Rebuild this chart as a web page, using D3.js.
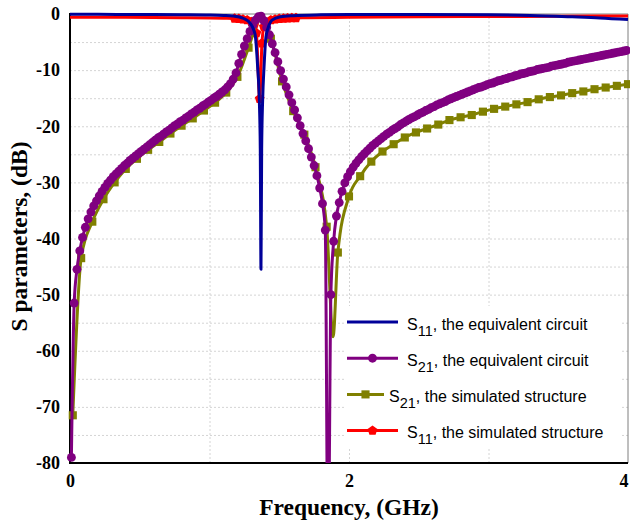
<!DOCTYPE html>
<html>
<head>
<meta charset="utf-8">
<script src="https://cdn.jsdelivr.net/npm/d3@7"></script>
<style>
  body { margin: 0; background: #fff; }
  svg { display: block; }
</style>
</head>
<body>
<svg id="chart" width="630" height="527"></svg>
<script>
// ---- Axis ticks ----
const xTicks = [0, 2, 4];
const yTicks = [0, -10, -20, -30, -40, -50, -60, -70, -80];

// ---- S11, equivalent circuit (line only) ----
const s11EqFreq = [0, 0.2, 0.4, 0.6, 0.8, 1.0, 1.1, 1.17, 1.245, 1.293, 1.315, 1.329, 1.345, 1.357, 1.364, 1.369,
  1.374, 1.381, 1.391, 1.405, 1.42, 1.448, 1.508, 1.6, 1.8, 2.0, 2.5, 3.0, 3.3, 3.6, 3.8, 4.0];
const s11EqDb = [-0.05, -0.06, -0.08, -0.1, -0.13, -0.18, -0.25, -0.35, -0.8, -1.7, -2.7, -4.0, -9.4, -15.3, -24, -45.5,
  -24, -15.3, -9.4, -4.0, -2.5, -1.1, -0.5, -0.3, -0.15, -0.1, -0.1, -0.15, -0.25, -0.5, -0.7, -1.0];

// ---- S21, equivalent circuit: sweep 0.01 ... 3.99 GHz, step 0.02 GHz ----
const s21EqFreq = d3.range(200).map(i => +(0.01 + 0.02 * i).toFixed(2));
const s21EqDb = [
  -79, -51.5, -45.5, -42.2, -39.8, -38.0, -36.5, -35.3, -34.2, -33.3,
  -32.4, -31.6, -30.9, -30.2, -29.6, -29.0, -28.5, -28.0, -27.5, -27.0,
  -26.6, -26.1, -25.7, -25.3, -24.9, -24.5, -24.1, -23.7, -23.3, -22.9,
  -22.5, -22.1, -21.8, -21.4, -21.0, -20.7, -20.3, -19.9, -19.6, -19.2,
  -18.9, -18.5, -18.2, -17.8, -17.5, -17.1, -16.8, -16.4, -16.1, -15.7,
  -15.4, -15.0, -14.7, -14.3, -13.9, -13.5, -13.0, -12.4, -11.6, -10.5,
  -8.8, -7.2, -5.7, -4.4, -3.1, -2.0, -1.1, -0.5, -0.4, -1.2,
  -2.4, -3.7, -5.3, -6.9, -8.5, -10.1, -11.6, -13.0, -14.4, -15.8,
  -17.1, -18.5, -19.9, -21.3, -22.6, -24.0, -25.5, -27.0, -28.8, -31.0,
  -33.8, -38.5, -100, -50, -40.5, -36.0, -33.6, -31.6, -30.1, -29.0,
  -28.1, -27.3, -26.6, -26.0, -25.4, -24.9, -24.4, -23.9, -23.4, -23.0,
  -22.6, -22.2, -21.8, -21.4, -21.1, -20.7, -20.4, -20.1, -19.7, -19.4,
  -19.1, -18.8, -18.5, -18.3, -18.0, -17.7, -17.5, -17.2, -17.0, -16.7,
  -16.5, -16.2, -16.0, -15.8, -15.6, -15.3, -15.1, -14.9, -14.7, -14.5,
  -14.3, -14.1, -13.9, -13.7, -13.5, -13.3, -13.1, -13.0, -12.8, -12.6,
  -12.4, -12.3, -12.1, -11.9, -11.8, -11.6, -11.5, -11.3, -11.2, -11.0,
  -10.9, -10.7, -10.6, -10.5, -10.3, -10.2, -10.1, -9.9, -9.8, -9.7,
  -9.6, -9.5, -9.3, -9.2, -9.1, -9.0, -8.9, -8.8, -8.6, -8.5,
  -8.4, -8.3, -8.2, -8.1, -8.0, -7.9, -7.8, -7.7, -7.6, -7.5,
  -7.4, -7.3, -7.2, -7.1, -7.0, -6.9, -6.8, -6.7, -6.6, -6.5
];

// ---- S21, simulated structure (marked sweep points) ----
const s21SimFreq = [0.02, 0.08, 0.16, 0.24, 0.32, 0.40, 0.48, 0.56, 0.64, 0.72, 0.80, 0.88, 0.96, 1.04, 1.12, 1.20,
  1.28, 1.36, 1.44, 1.52, 1.60, 1.68, 1.76, 1.84, 1.92, 2.00, 2.08, 2.16, 2.24, 2.32, 2.40, 2.48, 2.56, 2.64,
  2.72, 2.80, 2.88, 2.96, 3.04, 3.12, 3.20, 3.28, 3.36, 3.44, 3.52, 3.60, 3.68, 3.76, 3.84, 3.92, 4.00];
const s21SimDb = [-71.5, -43.5, -37.0, -33.0, -30.0, -27.6, -25.8, -24.2, -22.8, -21.3, -19.9, -18.6, -17.2, -15.8, -14.0, -11.2,
  -6.0, -0.8, -4.4, -12.0, -17.3, -21.5, -27.3, -37.9, -42.5, -32.5, -28.9, -26.3, -24.5, -23.2, -22.0, -21.1, -20.4, -19.7,
  -18.9, -18.4, -18.0, -17.4, -16.9, -16.5, -16.1, -15.7, -15.2, -14.8, -14.5, -14.1, -13.8, -13.4, -13.1, -12.8, -12.5];
// extra points of the sweep at the transmission zero (line only)
const s21SimNullFreq = [1.886];
const s21SimNullDb = [-57.5];

// ---- S11, simulated structure ----
// fine sweep around the resonance (marked)
const s11SimFreq = [1.18, 1.21, 1.24, 1.27, 1.30, 1.32, 1.336, 1.36, 1.376, 1.39, 1.41, 1.44, 1.47, 1.50, 1.53, 1.56, 1.59, 1.62];
const s11SimDb = [-0.8, -0.85, -0.95, -1.1, -1.4, -2.0, -3.4, -15.1, -5.2, -2.3, -1.5, -1.1, -0.95, -0.85, -0.8, -0.75, -0.7, -0.7];
// broadband sweep (line only)
const s11SimBaseFreq = [0, 0.4, 0.8, 1.0, 1.1, 1.7, 2.0, 2.5, 3.0, 3.5, 4.0];
const s11SimBaseDb = [-0.6, -0.6, -0.65, -0.7, -0.75, -0.65, -0.6, -0.5, -0.45, -0.4, -0.35];

// ---- Legend ----
const legendItems = [
  { sub: "11", rest: ", the equivalent circuit", color: "#000099", marker: null },
  { sub: "21", rest: ", the equivalent circuit", color: "#800080", marker: "circle" },
  { sub: "21", rest: ", the simulated structure", color: "#808000", marker: "square" },
  { sub: "11", rest: ", the simulated structure", color: "#ff0000", marker: "pentagon" }
];

// ---------------------------------------------------------------
const svg = d3.select("#chart");
const x = d3.scaleLinear().domain([0, 4]).range([70, 628]);
const y = d3.scaleLinear().domain([-80, 0]).range([463, 14]);
const plotW = x(4) - x(0), plotH = y(-80) - y(0);

svg.append("rect").attr("width", 630).attr("height", 527).attr("fill", "#fff");

// regular pentagon symbol
const symbolPentagon = {
  draw(ctx, size) {
    const r = Math.sqrt(size / 2.3776);
    for (let k = 0; k < 5; k++) {
      const a = -Math.PI / 2 + k * 2 * Math.PI / 5;
      const px = r * Math.cos(a), py = r * Math.sin(a);
      if (k === 0) ctx.moveTo(px, py); else ctx.lineTo(px, py);
    }
    ctx.closePath();
  }
};
const markerPath = {
  circle: d3.symbol().type(d3.symbolCircle).size(62)(),
  square: d3.symbol().type(d3.symbolSquare).size(66)(),
  pentagon: d3.symbol().type(symbolPentagon).size(64)()
};

// grid lines
const gridY = svg.append("g").attr("transform", `translate(${x(0)},0)`)
  .call(d3.axisLeft(y).tickValues(d3.range(-75, 0, 5)).tickSize(-plotW).tickFormat(""));
const gridX = svg.append("g").attr("transform", `translate(0,${y(-80)})`)
  .call(d3.axisBottom(x).tickValues([1, 2, 3]).tickSize(-plotH).tickFormat(""));
[gridY, gridX].forEach(g => {
  g.select(".domain").remove();
  g.selectAll("line").attr("stroke", "#d4d4d4").attr("stroke-width", 1).attr("stroke-dasharray", "2,2");
});

// frame
svg.append("line").attr("x1", x(4)).attr("x2", x(4)).attr("y1", y(0)).attr("y2", y(-80))
  .attr("stroke", "#7f7f7f").attr("stroke-width", 1);
svg.append("line").attr("x1", x(0)).attr("x2", x(4)).attr("y1", y(0)).attr("y2", y(0))
  .attr("stroke", "#7f7f7f").attr("stroke-width", 1);
svg.append("line").attr("x1", x(0)).attr("x2", x(0)).attr("y1", y(0) - 1).attr("y2", y(-80))
  .attr("stroke", "#000").attr("stroke-width", 2);
svg.append("line").attr("x1", x(0) - 1).attr("x2", x(4)).attr("y1", y(-80)).attr("y2", y(-80))
  .attr("stroke", "#000").attr("stroke-width", 2);

// tick labels
const tickFont = "'Liberation Serif', 'Times New Roman', serif";
const axY = svg.append("g").attr("transform", `translate(${x(0)},0)`)
  .call(d3.axisLeft(y).tickValues(yTicks).tickSize(0).tickPadding(10).tickFormat(d => String(d)));
const axX = svg.append("g").attr("transform", `translate(0,${y(-80)})`)
  .call(d3.axisBottom(x).tickValues(xTicks).tickSize(0).tickPadding(11).tickFormat(d => String(d)));
[axY, axX].forEach(g => {
  g.select(".domain").remove();
  g.selectAll("text").attr("font-family", tickFont).attr("font-weight", "bold")
    .attr("font-size", 18).attr("fill", "#000");
});
// keep the last frequency label inside the page
axX.selectAll(".tick").filter(d => d === 4).select("text").attr("text-anchor", "end").attr("dx", 0);

// axis titles
svg.append("text").attr("x", (x(0) + x(4)) / 2).attr("y", 515).attr("text-anchor", "middle")
  .attr("font-family", tickFont).attr("font-weight", "bold").attr("font-size", 23.5)
  .text("Frequency, (GHz)");
svg.append("text").attr("transform", `translate(27,${(y(0) + y(-80)) / 2 - 2}) rotate(-90)`)
  .attr("text-anchor", "middle")
  .attr("font-family", tickFont).attr("font-weight", "bold").attr("font-size", 23.5)
  .text("S parameters, (dB)");

// series
svg.append("clipPath").attr("id", "plotClip").append("rect")
  .attr("x", x(0) - 6).attr("y", y(0) - 8).attr("width", plotW + 10).attr("height", plotH + 8);
const plot = svg.append("g").attr("clip-path", "url(#plotClip)");

const zip = (fs, vs) => fs.map((f, i) => [f, vs[i]]);
const line = d3.line().x(d => x(d[0])).y(d => y(d[1])).curve(d3.curveMonotoneX);

function drawSeries(linePts, markPts, color, marker) {
  plot.append("path").datum(linePts).attr("d", line).attr("fill", "none")
    .attr("stroke", color).attr("stroke-width", 3).attr("stroke-linejoin", "round");
  if (marker) {
    plot.append("g").selectAll("path").data(markPts).join("path")
      .attr("transform", d => `translate(${x(d[0])},${y(d[1])})`)
      .attr("d", markerPath[marker]).attr("fill", color);
  }
}

const s11Sim = zip(s11SimFreq, s11SimDb);
drawSeries(s11Sim.concat(zip(s11SimBaseFreq, s11SimBaseDb)).sort((a, b) => a[0] - b[0]), s11Sim, "#ff0000", "pentagon");
const s21Sim = zip(s21SimFreq, s21SimDb);
drawSeries(s21Sim.concat(zip(s21SimNullFreq, s21SimNullDb)).sort((a, b) => a[0] - b[0]), s21Sim, "#808000", "square");
const s21Eq = zip(s21EqFreq, s21EqDb);
drawSeries(s21Eq, s21Eq, "#800080", "circle");
drawSeries(zip(s11EqFreq, s11EqDb), [], "#000099", null);

// legend
const legend = svg.append("g");
legend.append("rect").attr("x", 344).attr("y", 306).attr("width", 278).attr("height", 142).attr("fill", "#fff");
const legendFont = "'Liberation Sans', Arial, sans-serif";
legendItems.forEach((it, i) => {
  const ly = 322 + i * 36.2;
  const x2 = it.marker === "square" ? 384 : 398;
  const tx = it.marker === "square" ? 389 : 407;
  legend.append("line").attr("x1", 347).attr("x2", x2).attr("y1", ly).attr("y2", ly)
    .attr("stroke", it.color).attr("stroke-width", 3);
  if (it.marker) {
    legend.append("path").attr("transform", `translate(${(347 + x2) / 2},${ly})`)
      .attr("d", markerPath[it.marker]).attr("fill", it.color);
  }
  const t = legend.append("text").attr("x", tx).attr("y", ly + 7.5)
    .attr("font-family", legendFont).attr("font-size", 16).attr("fill", "#000");
  t.append("tspan").text("S");
  t.append("tspan").attr("dy", 6).attr("font-size", 14.5).text(it.sub);
  t.append("tspan").attr("dy", -6).text(it.rest);
});
</script>
</body>
</html>
